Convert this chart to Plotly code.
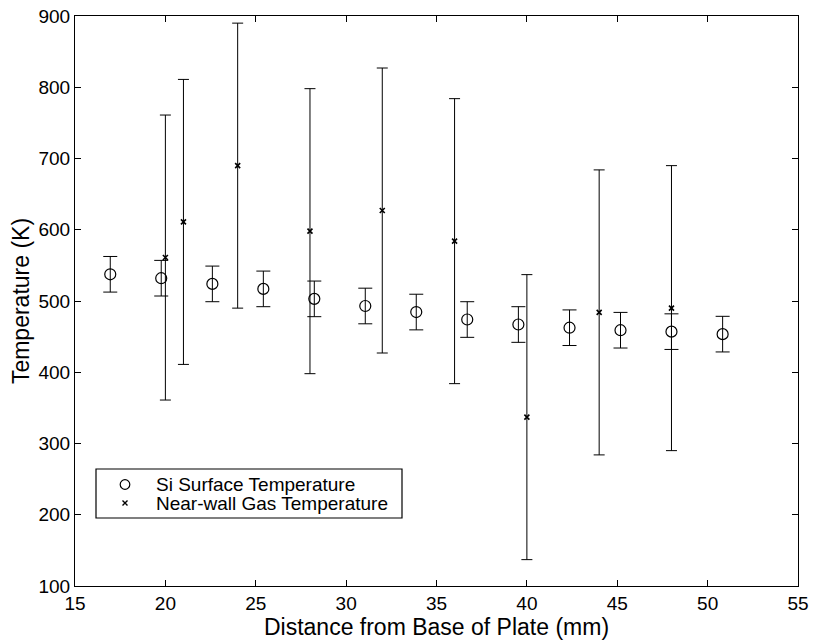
import plotly.graph_objects as go

# Si surface temperature measurements
si_x = [16.95, 19.77, 22.6, 25.42, 28.24, 31.06, 33.88, 36.7, 39.53, 42.36, 45.18, 48.0, 50.83]
si_temp = [537.5, 532, 524, 517, 503, 493, 484.5, 474, 467, 462.5, 459, 457, 453.5]
si_err = [25, 25, 25, 25, 25, 25, 25, 25, 25, 25, 25, 25, 25]

# Near-wall gas temperature measurements
gas_x = [20, 21, 24, 28, 32, 36, 40, 44, 48]
gas_temp = [561, 611, 690, 598, 627, 584, 337, 484, 490]
gas_err = [200, 200, 200, 200, 200, 200, 200, 200, 200]

x_ticks = [15, 20, 25, 30, 35, 40, 45, 50, 55]
y_ticks = [100, 200, 300, 400, 500, 600, 700, 800, 900]

FONT = "Liberation Sans, Arial, Helvetica, sans-serif"
W, H = 813, 643
ML, MR, MT, MB = 75, 15, 16, 57

fig = go.Figure()

fig.add_trace(go.Scatter(
    x=si_x, y=si_temp, mode="markers", name="Si Surface Temperature",
    marker=dict(symbol="circle-open", size=11, color="black", line=dict(width=1.2, color="black")),
    error_y=dict(type="data", array=si_err, visible=True, color="black", thickness=1, width=7),
    showlegend=False,
))

fig.add_trace(go.Scatter(
    x=gas_x, y=gas_temp, mode="markers", name="Near-wall Gas Temperature",
    marker=dict(symbol="x-thin", size=5, color="black", line=dict(width=1.6, color="black")),
    error_y=dict(type="data", array=gas_err, visible=True, color="black", thickness=1, width=5.5),
    showlegend=False,
))

# Legend drawn as a boxed key in the lower-left of the plot area
pw = W - ML - MR
ph = H - MT - MB


def px_x(p):
    return (p - ML) / pw


def px_y(p):
    return (H - MB - p) / ph


shapes = [
    dict(type="rect", xref="paper", yref="paper",
         x0=px_x(96), x1=px_x(402), y0=px_y(518), y1=px_y(469),
         line=dict(color="black", width=1.2), fillcolor="white", layer="above"),
    dict(type="circle", xref="paper", yref="paper", xsizemode="pixel", ysizemode="pixel",
         xanchor=px_x(125), yanchor=px_y(484.5), x0=-4.8, x1=4.8, y0=-4.8, y1=4.8,
         line=dict(color="black", width=1.2), layer="above"),
    dict(type="path", xref="paper", yref="paper", xsizemode="pixel", ysizemode="pixel",
         xanchor=px_x(125), yanchor=px_y(503),
         path="M-2.5,-2.5 L2.5,2.5 M-2.5,2.5 L2.5,-2.5",
         line=dict(color="black", width=1.4), layer="above"),
]

annotations = [
    dict(text="Si Surface Temperature", xref="paper", yref="paper",
         x=px_x(154), y=px_y(484.5), xanchor="left", yanchor="middle",
         showarrow=False, font=dict(family=FONT, size=19, color="black")),
    dict(text="Near-wall Gas Temperature", xref="paper", yref="paper",
         x=px_x(154), y=px_y(503.5), xanchor="left", yanchor="middle",
         showarrow=False, font=dict(family=FONT, size=19, color="black")),
]

axis_common = dict(
    showgrid=False, zeroline=False, showline=True, linecolor="black", linewidth=1.2,
    mirror="ticks", ticks="inside", ticklen=6, tickwidth=1, tickcolor="black",
    tickfont=dict(family=FONT, size=19, color="black"),
)

fig.update_layout(
    width=W, height=H,
    margin=dict(l=ML, r=MR, t=MT, b=MB, autoexpand=False),
    paper_bgcolor="white", plot_bgcolor="white",
    font=dict(family=FONT, color="black"),
    xaxis=dict(range=[15, 55], tickvals=x_ticks, ticktext=[str(v) for v in x_ticks],
               title=dict(text="Distance from Base of Plate (mm)",
                          font=dict(family=FONT, size=23, color="black"), standoff=0),
               **axis_common),
    yaxis=dict(range=[100, 900], tickvals=y_ticks, ticktext=[str(v) for v in y_ticks],
               title=dict(text="Temperature (K)",
                          font=dict(family=FONT, size=23, color="black"), standoff=2),
               **axis_common),
    shapes=shapes,
    annotations=annotations,
)

fig.write_html("out.html")
